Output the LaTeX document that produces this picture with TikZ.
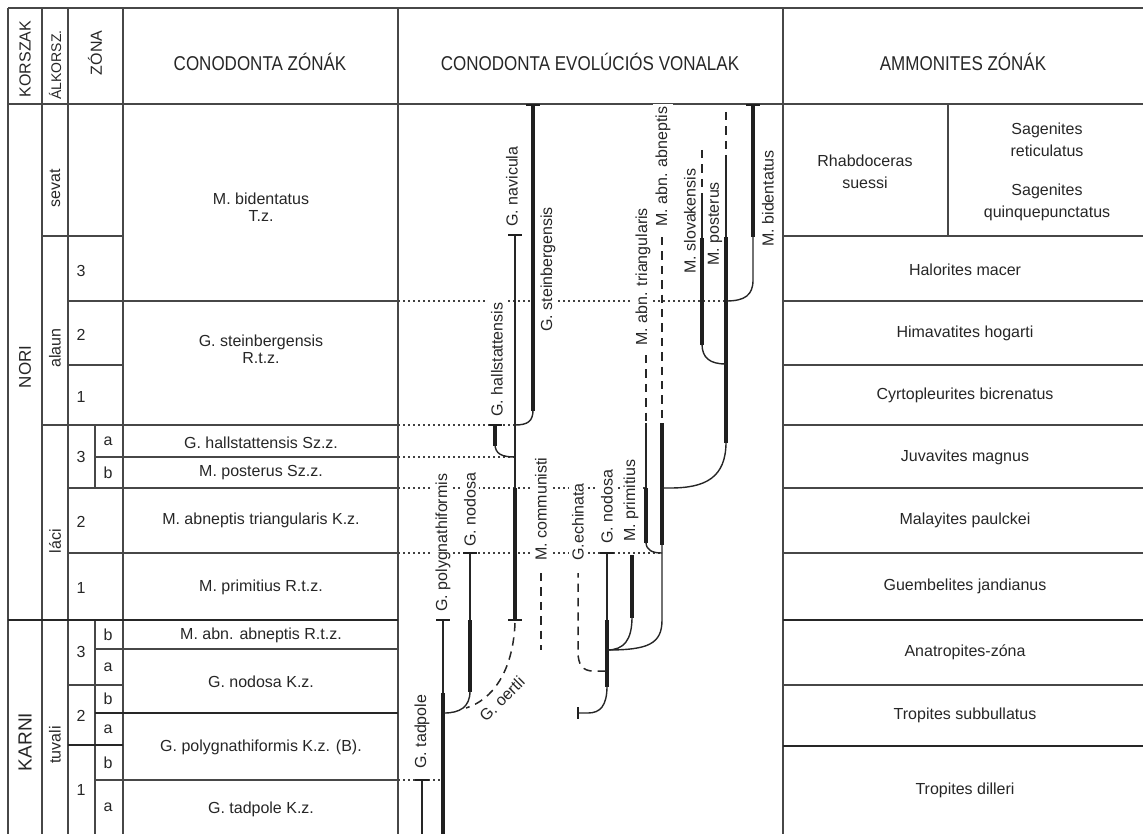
\documentclass[tikz,border=0pt]{standalone}
\usepackage{fontspec}
\setmainfont{Liberation Sans}
\newfontfamily\hdfont[FakeStretch=0.85]{Liberation Sans}
\begin{document}
\begin{tikzpicture}[x=0.5pt,y=-0.5pt,
  grid/.style={line width=0.6pt, draw=black!72},
  gridthick/.style={line width=1.4pt, draw=black!85},
  dotl/.style={line width=0.55pt, draw=black!75, dash pattern=on 0.8pt off 1.7pt},
  evthin/.style={line width=0.7pt, draw=black!85},
  evthick/.style={line width=2pt, draw=black!88},
  evdash/.style={line width=0.75pt, draw=black!85, dash pattern=on 4.2pt off 3pt},
  capl/.style={line width=0.8pt, draw=black!88},
  capk/.style={line width=1.4pt, draw=black!88},
  tx/.style={font=\fontsize{8}{9.5}\selectfont, text=black!85, inner sep=0pt, align=center},
  txw/.style={font=\fontsize{8}{11}\selectfont, text=black!85, inner sep=0pt, align=center},
  hd/.style={font=\hdfont\fontsize{10}{12}\selectfont, text=black!85, inner sep=0pt},
  rt/.style={font=\fontsize{8}{9.5}\selectfont, text=black!85, inner sep=0pt, rotate=90},
  vl/.style={font=\fontsize{8}{9.5}\selectfont, text=black!85, rotate=90, inner sep=1.5pt, fill=white, anchor=west},
]
\useasboundingbox (0,0) rectangle (1143,834);
% ---------- grid ----------
\draw[grid] (8,8) -- (1143,8);
\draw[grid] (8,104) -- (1143,104);
\foreach \x in {8,42,68,123,398,783} \draw[grid] (\x,8) -- (\x,834);
\draw[grid] (95,425) -- (95,488);
\draw[grid] (95,620) -- (95,834);
\draw[grid] (948,104) -- (948,236);
% left side rows
\draw[grid] (42,236) -- (123,236);
\draw[grid] (68,301) -- (398,301);
\draw[grid] (68,365) -- (123,365);
\draw[grid] (42,425) -- (398,425);
\draw[grid] (95,457) -- (398,457);
\draw[grid] (68,488) -- (398,488);
\draw[grid] (68,553) -- (398,553);
\draw[gridthick] (8,620) -- (398,620);
\draw[grid] (95,649) -- (398,649);
\draw[grid] (68,685) -- (123,685);
\draw[gridthick] (95,713) -- (398,713);
\draw[gridthick] (68,745) -- (123,745);
\draw[grid] (95,780) -- (398,780);
% ammonite rows
\foreach \y in {236,301,365,425,488,553,685} \draw[grid] (783,\y) -- (1143,\y);
\draw[gridthick] (783,620) -- (1143,620);
\draw[gridthick] (783,746) -- (1143,746);
% dotted lines in evolution column
\draw[dotl] (398,301) -- (726,301);
\draw[dotl] (398,425) -- (515,425);
\draw[dotl] (398,457) -- (515,457);
\draw[dotl] (398,488) -- (646,488);
\draw[dotl] (398,553) -- (662,553);
\draw[dotl] (398,780) -- (443,780);
% ---------- header ----------
\node[rt] (hk) at (25,59) {KORSZAK};
\node[rt, font=\fontsize{7}{8}\selectfont] (ha) at (55,65) {ÁLKORSZ.};
\node[rt] (hz) at (95,53) {ZÓNA};
\node[hd] (h1) at (260,62) {CONODONTA ZÓNÁK};
\node[hd] (h2) at (590,62) {CONODONTA EVOLÚCIÓS VONALAK};
\node[hd] (h3) at (963,62) {AMMONITES ZÓNÁK};
% ---------- left columns ----------
\node[rt, font=\fontsize{8.5}{10}\selectfont] (nori) at (25,367) {NORI};
\node[rt, font=\fontsize{9.5}{11}\selectfont] (karni) at (25,742) {KARNI};
\node[rt] (sev) at (55,188) {sevat};
\node[rt] (ala) at (55,348) {alaun};
\node[rt] (lac) at (55,541) {láci};
\node[rt] (tuv) at (55,745) {tuvali};
\node[tx] (z1) at (81,271) {3};
\node[tx] (z2) at (81,335) {2};
\node[tx] (z3) at (81,397) {1};
\node[tx] (z4) at (81,457) {3};
\node[tx] (z4a) at (108,441) {a};
\node[tx] (z4b) at (108,473) {b};
\node[tx] (z5) at (81,522) {2};
\node[tx] (z6) at (81,588) {1};
\node[tx] (z7) at (81,652) {3};
\node[tx] (z7b) at (108,635) {b};
\node[tx] (z7a) at (108,667) {a};
\node[tx] (z8) at (81,716) {2};
\node[tx] (z8b) at (108,699) {b};
\node[tx] (z8a) at (108,729) {a};
\node[tx] (z9) at (81,790) {1};
\node[tx] (z9b) at (108,763) {b};
\node[tx] (z9a) at (108,807) {a};
% ---------- conodonta zones ----------
\node[tx, font=\fontsize{8}{8.5}\selectfont] (c1) at (261,207) {M. bidentatus\\T.z.};
\node[tx, font=\fontsize{8}{8.5}\selectfont] (c2) at (261,349) {G. steinbergensis\\R.t.z.};
\node[tx] (c3) at (261,443) {G. hallstattensis Sz.z.};
\node[tx] (c4) at (261,473) {M. posterus Sz.z.};
\node[tx] (c5) at (261,520) {M. abneptis triangularis K.z.};
\node[tx] (c6) at (261,587) {M. primitius R.t.z.};
\node[tx] (c7) at (261,635) {M. abn. abneptis R.t.z.};
\node[tx] (c8) at (261,682) {G. nodosa K.z.};
\node[tx] (c9) at (261,747) {G. polygnathiformis K.z. (B).};
\node[tx] (c10) at (261,809) {G. tadpole K.z.};
% ---------- ammonites ----------
\node[txw] (a1) at (865,172) {Rhabdoceras\\suessi};
\node[txw] (a2) at (1047,140) {Sagenites\\reticulatus};
\node[txw] (a3) at (1047,202) {Sagenites\\quinquepunctatus};
\node[tx] (a4) at (965,270) {Halorites macer};
\node[tx] (a5) at (965,333) {Himavatites hogarti};
\node[tx] (a6) at (965,395) {Cyrtopleurites bicrenatus};
\node[tx] (a7) at (965,457) {Juvavites magnus};
\node[tx] (a8) at (965,520) {Malayites paulckei};
\node[tx] (a9) at (965,586) {Guembelites jandianus};
\node[tx] (a10) at (965,652) {Anatropites-zóna};
\node[tx] (a11) at (965,715) {Tropites subbullatus};
\node[tx] (a12) at (965,790) {Tropites dilleri};
% ---------- evolution line labels ----------
\node[vl] (lnav) at (512,230) {G. navicula};
\node[vl] (lste) at (548,335) {G. steinbergensis};
\node[vl] (lhal) at (497,420) {G. hallstattensis};
\node[vl] (lcom) at (541,564) {M. communisti};
\node[vl] (lech) at (578,564) {G.echinata};
\node[vl] (lnod2) at (607,547) {G. nodosa};
\node[vl] (lpri) at (631,545) {M. primitius};
\node[vl] (lnod1) at (470,550) {G. nodosa};
\node[vl] (lpol) at (443,615) {G. polygnathiformis};
\node[vl] (ltad) at (422,772) {G. tadpole};
\node[vl] (ltri) at (643,349) {M. abn. triangularis};
\node[vl] (labn) at (663,230) {M. abn. abneptis};
\node[vl] (lslo) at (690,277) {M. slovakensis};
\node[vl] (lpos) at (715,269) {M. posterus};
\node[vl] (lbid) at (768,250) {M. bidentatus};
\node[tx, rotate=45] (loer) at (502,699) {G.~oertli};
% ---------- evolution lines ----------
% main line (navicula / communisti)
\draw[evthin] (515,235) -- (515,488);
\draw[capl] (508,235) -- (522,235);
\draw[evthick] (515,488) -- (515,620);
\draw[capl] (508,620) -- (522,620);
% steinbergensis
\draw[evthin] (515,425) .. controls (528,425) and (533,421) .. (533,410);
\draw[evthick] (533,411) -- (533,105);
\draw[capk] (526,105) -- (540,105);
% hallstattensis
\draw[evthin] (515,457) .. controls (502,457) and (495,454) .. (495,444);
\draw[evthick] (495,446) -- (495,425);
\draw[capk] (489,425) -- (502,425);
% communisti dashed
\draw[evdash] (541,573) -- (541,650);
% oertli
\draw[evdash] (515,623) .. controls (513,672) and (492,700) .. (466,708);
% polygnathiformis
\draw[evthin] (443,620) -- (443,693);
\draw[capl] (436,620) -- (450,620);
\draw[evthick] (443,693) -- (443,834);
% nodosa 1
\draw[evthin] (470,553) -- (470,620);
\draw[capl] (463,553) -- (477,553);
\draw[evthick] (470,620) -- (470,692);
\draw[evthin] (470,691) .. controls (470,707) and (460,713) .. (444,713);
% tadpole
\draw[evthin] (422,780) -- (422,834);
\draw[capl] (415,780) -- (429,780);
% nodosa 2
\draw[evthin] (607,553) -- (607,620);
\draw[capl] (600,553) -- (614,553);
\draw[evthick] (607,620) -- (607,687);
\draw[evthin] (607,686) .. controls (607,706) and (600,713) .. (588,713) -- (578,713);
\draw[capl] (578,707) -- (578,719);
% echinata
\draw[evdash] (606,671) -- (593,671) .. controls (583,671) and (578,665) .. (578,652) -- (578,573);
% primitius
\draw[evthick] (632,555) -- (632,618);
\draw[evthin] (632,617) .. controls (632,640) and (624,650) .. (607,650);
% abn. abneptis
\draw[evdash] (662,237) -- (662,423);
\draw[evthick] (662,423) -- (662,545);
\draw[evthin] (662,545) -- (662,620) .. controls (662,644) and (648,650) .. (607,650);
% abn. triangularis
\draw[evdash] (646,355) -- (646,423);
\draw[evthin] (646,423) -- (646,488);
\draw[evthick] (646,488) -- (646,543);
\draw[evthin] (646,542) .. controls (646,550) and (652,553) .. (662,553);
% posterus
\draw[evdash] (726,112) -- (726,155);
\draw[evthin] (726,155) -- (726,237);
\draw[evthick] (726,237) -- (726,443);
\draw[evthin] (726,442) .. controls (726,478) and (705,488) .. (670,488) -- (662,488);
% slovakensis
\draw[evdash] (702,150) -- (702,195);
\draw[evthin] (702,195) -- (702,238);
\draw[evthick] (702,238) -- (702,345);
\draw[evthin] (702,344) .. controls (702,358) and (710,364) .. (726,364);
% bidentatus
\draw[evthick] (753,105) -- (753,237);
\draw[capk] (746,105) -- (760,105);
\draw[evthin] (753,237) -- (753,280) .. controls (753,295) and (745,301) .. (726,301);
\end{tikzpicture}
\end{document}
